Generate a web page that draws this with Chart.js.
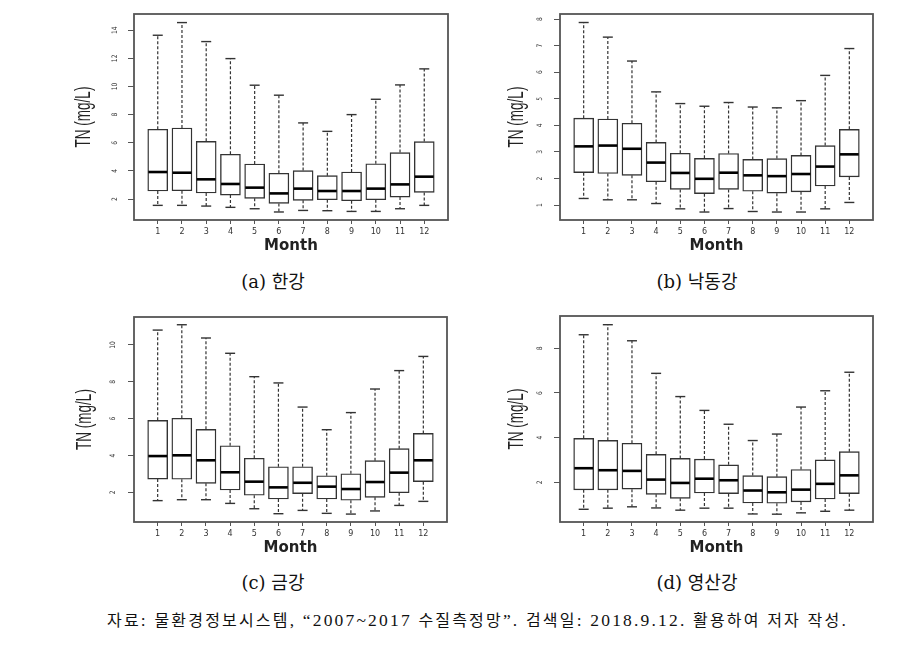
<!DOCTYPE html>
<html><head><meta charset="utf-8">
<script src="https://cdn.jsdelivr.net/npm/chart.js@4/dist/chart.umd.min.js"></script>
<style>
html,body{margin:0;padding:0;background:#fff;}
#page{position:relative;width:924px;height:650px;overflow:hidden;background:#fff;}
canvas{position:absolute;}
.cap{position:absolute;font-family:"DejaVu Serif","Liberation Serif","Noto Sans CJK KR",serif;font-size:18px;color:#111;white-space:nowrap;line-height:1;transform:translate(-50%,-50%);}
#foot{position:absolute;left:107px;top:620px;font-family:"Liberation Serif","Noto Sans CJK KR",serif;font-size:17.5px;color:#111;white-space:nowrap;line-height:1;transform:translateY(-50%);}
#foot .h{font-family:"Noto Sans CJK KR",sans-serif;font-size:16px;}
</style></head><body>
<div id="page">
<canvas id="ca"></canvas>
<canvas id="cb"></canvas>
<canvas id="cc"></canvas>
<canvas id="cd"></canvas>
<div class="cap" style="left:273px;top:282px">(a) 한강</div>
<div class="cap" style="left:697px;top:282px">(b) 낙동강</div>
<div class="cap" style="left:273px;top:583px">(c) 금강</div>
<div class="cap" style="left:697px;top:583px">(d) 영산강</div>
<div id="foot">자료: 물환경정보시스템, “2007~2017 수질측정망”. 검색일: 2018.9.12. 활용하여 저자 작성.</div>
</div>
<script>
const months = [1,2,3,4,5,6,7,8,9,10,11,12];

// (a) 한강
const hanLow  = [1.55,1.55,1.50,1.41,1.31,1.08,1.19,1.17,1.12,1.12,1.31,1.55];
const hanQ1   = [2.57,2.59,2.43,2.28,2.05,1.69,1.91,1.95,1.88,1.95,2.14,2.47];
const hanMed  = [3.92,3.87,3.40,3.07,2.81,2.40,2.74,2.57,2.57,2.74,3.04,3.59];
const hanQ3   = [6.96,7.05,6.10,5.18,4.49,3.83,4.02,3.66,3.92,4.51,5.30,6.08];
const hanHigh = [13.64,14.54,13.19,11.98,10.09,9.38,7.41,6.81,8.00,9.09,10.11,11.25];
const hanTicks = [2,4,6,8,10,12,14];

// (b) 낙동강
const nakLow  = [1.25,1.20,1.20,1.06,0.86,0.74,0.87,0.76,0.74,0.74,0.86,1.10];
const nakQ1   = [2.22,2.19,2.12,1.88,1.59,1.43,1.59,1.52,1.45,1.50,1.72,2.06];
const nakMed  = [3.21,3.24,3.12,2.60,2.21,1.99,2.22,2.12,2.09,2.17,2.45,2.91];
const nakQ3   = [4.27,4.24,4.08,3.36,2.95,2.76,2.94,2.72,2.75,2.87,3.24,3.85];
const nakHigh = [7.87,7.32,6.42,5.26,4.82,4.72,4.86,4.69,4.66,4.93,5.88,6.89];
const nakTicks = [1,2,3,4,5,6,7,8];

// (c) 금강
const geumLow  = [1.55,1.60,1.60,1.40,1.11,0.84,1.02,0.86,0.82,0.99,1.29,1.51];
const geumQ1   = [2.72,2.71,2.49,2.13,1.84,1.64,1.93,1.64,1.57,1.73,1.98,2.58];
const geumMed  = [3.97,4.01,3.74,3.09,2.58,2.27,2.52,2.31,2.18,2.56,3.07,3.74];
const geumQ3   = [5.91,6.02,5.42,4.53,3.85,3.39,3.39,2.90,3.01,3.72,4.37,5.20];
const geumHigh = [10.81,11.10,10.38,9.55,8.28,7.94,6.63,5.40,6.33,7.61,8.61,9.38];
const geumTicks = [2,4,6,8,10];

// (d) 영산강
const ysLow  = [0.79,0.84,0.90,0.85,0.75,0.84,0.84,0.58,0.57,0.63,0.70,0.75];
const ysQ1   = [1.66,1.66,1.69,1.46,1.28,1.52,1.49,1.07,1.06,1.12,1.25,1.49];
const ysMed  = [2.63,2.54,2.51,2.12,1.97,2.16,2.09,1.63,1.55,1.67,1.93,2.31];
const ysQ3   = [3.97,3.88,3.75,3.25,3.07,3.04,2.78,2.30,2.25,2.57,3.00,3.37];
const ysHigh = [8.61,9.06,8.34,6.88,5.84,5.22,4.60,3.87,4.16,5.37,6.10,6.93];
const ysTicks = [2,4,6,8];

const xLabel = 'Month';
const yLabel = 'TN (mg/L)';

const boxPlugin = {
  id: 'boxdraw',
  afterDatasetsDraw(chart) {
    const p = chart.options.plugins.boxdraw;
    const {ctx, chartArea: a} = chart;
    const x = chart.scales.x, y = chart.scales.y;
    const meta = chart.getDatasetMeta(0);
    const line = (x1,y1,x2,y2) => { ctx.beginPath(); ctx.moveTo(x1,y1); ctx.lineTo(x2,y2); ctx.stroke(); };
    ctx.save();
    months.forEach((m, i) => {
      const cx = x.getPixelForValue(m);
      const w = meta.data[i] ? meta.data[i].width : 20;
      const yq1 = y.getPixelForValue(p.q1[i]);
      const yq3 = y.getPixelForValue(p.q3[i]);
      const ylo = y.getPixelForValue(p.low[i]);
      const yhi = y.getPixelForValue(p.high[i]);
      const ymd = y.getPixelForValue(p.med[i]);
      ctx.setLineDash([3, 2]);
      ctx.strokeStyle = '#333'; ctx.lineWidth = 1.2;
      line(cx, yq3, cx, yhi);
      line(cx, yq1, cx, ylo);
      ctx.setLineDash([]);
      ctx.strokeStyle = '#333'; ctx.lineWidth = 1.4;
      line(cx - w/4, yhi, cx + w/4, yhi);
      line(cx - w/4, ylo, cx + w/4, ylo);
      ctx.strokeStyle = '#000'; ctx.lineWidth = 2.6;
      line(cx - w/2 + 0.6, ymd, cx + w/2 - 0.6, ymd);
    });
    // frame
    ctx.strokeStyle = '#555'; ctx.lineWidth = 1.8;
    ctx.strokeRect(a.left, a.top, a.right - a.left, a.bottom - a.top);
    // rotated y tick labels
    ctx.fillStyle = '#333';
    ctx.font = '6px "DejaVu Sans"';
    ctx.textAlign = 'center'; ctx.textBaseline = 'middle';
    p.ticks.forEach(t => {
      const py = y.getPixelForValue(t);
      ctx.save();
      ctx.translate(a.left - p.labOff, py);
      ctx.rotate(-Math.PI / 2);
      ctx.scale(1, 1.25);
      ctx.fillText(String(t), 0, 0);
      ctx.restore();
    });
    // y title
    ctx.save();
    ctx.fillStyle = '#222';
    ctx.font = '13.5px "Liberation Sans"';
    ctx.translate(a.left - p.titleOff, (a.top + a.bottom) / 2);
    ctx.rotate(-Math.PI / 2);
    ctx.scale(1, 1.6);
    ctx.fillText(yLabel, 0, 0);
    ctx.restore();
    ctx.restore();
  }
};

function makePanel(id, plot, ymin, ymax, ticks, low, q1, med, q3, high, labOff, titleOff) {
  const cv = document.getElementById(id);
  const left = plot[0] - 64, top = plot[1] - 14;
  const width = plot[2] - left + 12, height = plot[3] - top + 38;
  cv.style.left = left + 'px'; cv.style.top = top + 'px';
  cv.width = width; cv.height = height;
  cv.style.width = width + 'px'; cv.style.height = height + 'px';
  new Chart(cv, {
    type: 'bar',
    data: {
      datasets: [{
        data: months.map((m, i) => ({x: m, y: [q1[i], q3[i]]})),
        backgroundColor: '#fff',
        borderColor: '#333',
        borderWidth: 1.4,
        borderSkipped: false,
        barThickness: 20
      }]
    },
    options: {
      responsive: false,
      animation: false,
      devicePixelRatio: 1,
      layout: {padding: {top: 14, right: 12, left: 0, bottom: 0}},
      plugins: {
        legend: {display: false},
        tooltip: {enabled: false},
        boxdraw: {low, q1, med, q3, high, ticks, labOff, titleOff}
      },
      scales: {
        x: {
          type: 'linear', min: 0.02, max: 12.98, offset: false,
          afterBuildTicks: s => { s.ticks = months.map(v => ({value: v})); },
          afterFit: s => { s.height = 38; },
          ticks: {font: {family: 'DejaVu Sans', size: 8}, color: '#333', padding: 3, autoSkip: false, maxRotation: 0, callback: v => String(v)},
          grid: {display: true, drawOnChartArea: false, drawTicks: true, tickLength: 4, color: '#555', offset: false},
          border: {display: false},
          title: {display: true, text: xLabel, font: {family: 'DejaVu Sans', size: 15, weight: 'bold'}, color: '#222', padding: {top: 0, bottom: 3}}
        },
        y: {
          type: 'linear', min: ymin, max: ymax,
          afterBuildTicks: s => { s.ticks = ticks.map(v => ({value: v})); },
          afterFit: s => { s.width = 64; },
          ticks: {display: false},
          grid: {display: true, drawOnChartArea: false, drawTicks: true, tickLength: 6, color: '#555'},
          border: {display: false}
        }
      }
    },
    plugins: [boxPlugin]
  });
}

makePanel('ca', [134, 14, 448, 220], 0.51, 15.15, hanTicks, hanLow, hanQ1, hanMed, hanQ3, hanHigh, 19, 50);
makePanel('cb', [560, 14, 873, 220], 0.44, 8.19, nakTicks, nakLow, nakQ1, nakMed, nakQ3, nakHigh, 20, 43);
makePanel('cc', [134, 317, 447, 522], 0.39, 11.52, geumTicks, geumLow, geumQ1, geumMed, geumQ3, geumHigh, 21, 49);
makePanel('cd', [560, 316, 873, 522], 0.22, 9.45, ysTicks, ysLow, ysQ1, ysMed, ysQ3, ysHigh, 20, 43);

// footer: Hangul runs in a separate span, then spread letters to the reference width
const foot = document.getElementById('foot');
const txt = foot.textContent;
foot.textContent = '';
txt.split(/([가-힣]+)/).forEach(part => {
  if (!part) return;
  if (/^[가-힣]+$/.test(part)) {
    const s = document.createElement('span'); s.className = 'h'; s.textContent = part; foot.appendChild(s);
  } else {
    foot.appendChild(document.createTextNode(part));
  }
});
const w0 = foot.getBoundingClientRect().width;
foot.style.letterSpacing = Math.max(0, (741 - w0) / txt.length) + 'px';
</script>
</body></html>
